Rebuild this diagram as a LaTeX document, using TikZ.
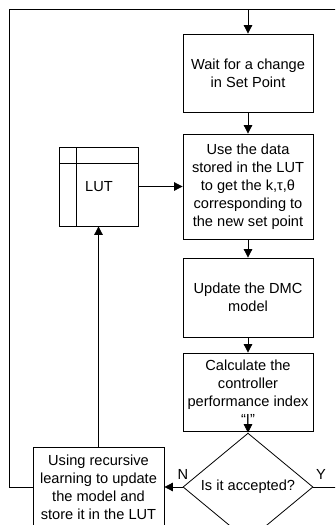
\documentclass[tikz,border=0pt]{standalone}
\usepackage{fontspec}
\setmainfont{Liberation Sans}
\usetikzlibrary{arrows.meta,shapes.geometric}
\begin{document}
\begin{tikzpicture}[x=1pt,y=-1pt,
  line width=0.8pt,
  every node/.style={font=\fontsize{14.6}{18}\selectfont},
  box/.style={draw, rectangle, minimum width=130pt, align=center, inner sep=2pt},
  arr/.style={-{Triangle[width=8.5pt,length=8.5pt]}}]
\useasboundingbox (0,0) rectangle (335,525);
\clip (0,0) rectangle (335,525);
\node[box, minimum height=78pt] (b1) at (248,73) {Wait for a change\\in Set Point};
\node[box, minimum height=105pt] (b2) at (248,186.5) {Use the data\\stored in the LUT\\to get the k,τ,θ\\corresponding to\\the new set point};
\node[box, minimum height=79pt] (b3) at (248,297.5) {Update the DMC\\model};
\node[box, minimum height=78pt] (b4) at (248,392) {Calculate the\\controller\\performance index\\“I”};
\node[draw, diamond, minimum width=130pt, minimum height=78pt, inner sep=0pt] (dia) at (248,487) {Is it accepted?};
\node[box, minimum width=131pt, minimum height=80pt] (lb) at (98.5,487) {Using recursive\\learning to update\\the model and\\store it in the LUT};
\node[draw, rectangle, minimum width=79pt, minimum height=79pt, inner sep=0pt] (lut) at (98.5,186.5) {};
\draw (76,147) -- (76,226);
\draw (59,163) -- (138,163);
\node (luttext) at (99,187) {LUT};
\node (nlab) at (183,474) {N};
\node (ylab) at (321,474) {Y};
\coordinate (tl) at (9,9);
\coordinate (tr) at (340,9);
\coordinate (tin) at (248,9);
\coordinate (yr) at (340,487);
\draw[arr] (tin) -- (b1.north);
\draw[arr] (b1) -- (b2);
\draw[arr] (b2) -- (b3);
\draw[arr] (b3) -- (b4);
\draw[arr] (b4) -- (dia.north);
\draw[arr] (dia.west) -- (lb.east);
\draw (dia.east) -- (yr);
\draw (lb.west) -| (tl) -- (tr);
\draw[arr] (lb.north) -- (lut.south);
\draw[arr] (lut.east |- b2.west) -- (b2.west);
\end{tikzpicture}
\end{document}
